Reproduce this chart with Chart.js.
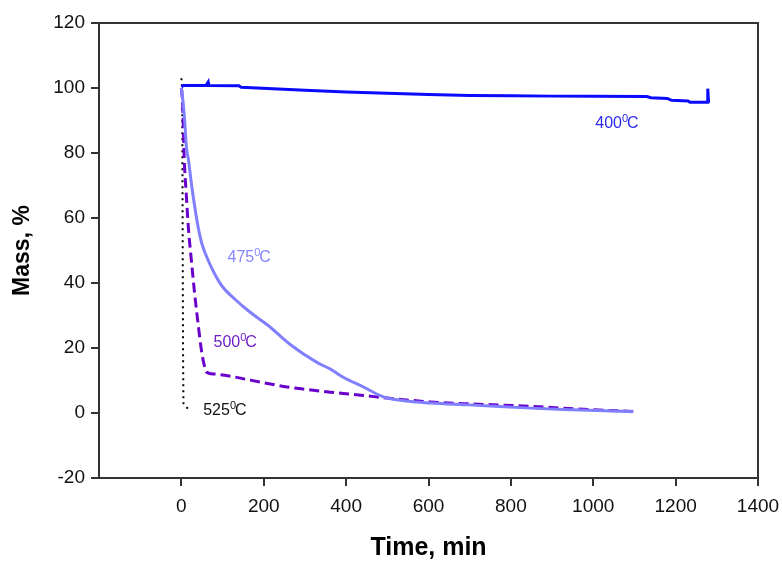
<!DOCTYPE html>
<html>
<head>
<meta charset="utf-8">
<script src="https://cdn.jsdelivr.net/npm/chart.js@4/dist/chart.umd.min.js"></script>
<style>
  html, body { margin: 0; padding: 0; background: #fff; }
  #wrap { width: 782px; height: 562px; }
</style>
</head>
<body>
<div id="wrap"><canvas id="chart" width="782" height="562"></canvas></div>
<script>
// mass loss curves
const time400 = [0, 5, 45, 60, 65, 66, 140, 145, 300, 400, 500, 600, 700, 800, 900, 1000, 1130, 1140, 1180, 1190, 1230, 1235, 1278, 1278, 1280];
const mass400 = [100.3, 100.8, 100.8, 100.8, 101.8, 100.8, 100.7, 100.2, 99.3, 98.8, 98.4, 98.0, 97.7, 97.6, 97.5, 97.5, 97.4, 97.0, 96.8, 96.2, 96.0, 95.6, 95.6, 99.8, 95.4];

const time475 = [0, 3, 8, 12, 17, 25, 33, 41, 50, 65, 80, 99, 130, 167, 210, 265, 330, 362, 393, 442, 480, 500, 550, 604, 700, 847, 950, 1050, 1097];
const mass475 = [100, 97, 90, 82, 78, 70, 63, 57, 52, 47, 43, 39, 35, 31, 27, 21, 15.5, 13.5, 11, 8, 5.5, 4.6, 3.6, 3.1, 2.5, 1.5, 1, 0.6, 0.4];

const time500 = [0, 3, 7, 12, 17, 25, 32, 41, 49, 55, 62, 80, 120, 160, 200, 257, 300, 362, 442, 500, 604, 700, 767, 850, 927, 1000, 1097];
const mass500 = [100, 95, 78, 67, 57, 46, 37, 27, 19, 15, 12.5, 12, 11.3, 10.3, 9.3, 8, 7.3, 6.4, 5.4, 4.6, 3.4, 2.8, 2.5, 2, 1.5, 1, 0.5];

const time525 = [0, 2, 3, 4, 5, 10, 20];
const mass525 = [103, 100, 60, 20, 3, 2, 1];

const xTicks = [0, 200, 400, 600, 800, 1000, 1200, 1400];
const yTicks = [-20, 0, 20, 40, 60, 80, 100, 120];

// curve labels: temperature and anchor in data units
const labelTemps = ["400", "475", "500", "525"];
const labelTime = [1005, 112, 78, 53];
const labelMass = [87.7, 46.5, 20.3, -0.6];
const labelColors = ["#2a2aee", "#8585ff", "#7020c8", "#111111"];

const FONT = "'Liberation Sans', Arial, sans-serif";

function pts(xs, ys) {
    return xs.map((x, i) => ({ x: x, y: ys[i] }));
}

const boxPlugin = {
    id: "box",
    afterDraw(chart) {
        const a = chart.chartArea;
        const ctx = chart.ctx;
        ctx.save();
        ctx.strokeStyle = "#333";
        ctx.lineWidth = 2;
        ctx.strokeRect(a.left, a.top, a.right - a.left, a.bottom - a.top);

        const xs = chart.scales.x, ys = chart.scales.y;
        ctx.textBaseline = "alphabetic";
        ctx.textAlign = "left";
        labelTemps.forEach((t, i) => {
            let px = xs.getPixelForValue(labelTime[i]);
            const py = ys.getPixelForValue(labelMass[i]);
            ctx.fillStyle = labelColors[i];
            ctx.font = "16px " + FONT;
            ctx.fillText(t, px, py);
            px += ctx.measureText(t).width;
            ctx.font = "11px " + FONT;
            ctx.fillText("0", px, py - 6);
            px += ctx.measureText("0").width - 1;
            ctx.font = "16px " + FONT;
            ctx.fillText("C", px, py);
        });
        ctx.restore();
    }
};

const ctx = document.getElementById("chart").getContext("2d");

new Chart(ctx, {
    type: "scatter",
    data: {
        datasets: [
            { label: "400", data: pts(time400, mass400), borderColor: "#0a0aff", borderWidth: 3 },
            { label: "475", data: pts(time475, mass475), borderColor: "#8080ff", borderWidth: 3, cubicInterpolationMode: "monotone" },
            { label: "500", data: pts(time500, mass500), borderColor: "#6a00cc", borderWidth: 3, borderDash: [10, 5], cubicInterpolationMode: "monotone" },
            { label: "525", data: pts(time525, mass525), borderColor: "#000", borderWidth: 2, borderDash: [2, 4] }
        ].map(d => Object.assign(d, { showLine: true, pointRadius: 0, fill: false }))
    },
    options: {
        responsive: false,
        animation: false,
        layout: { padding: { top: 23, right: 24, left: 0, bottom: 0 } },
        plugins: { legend: { display: false }, tooltip: { enabled: false } },
        scales: {
            x: {
                type: "linear",
                min: -200,
                max: 1400,
                afterBuildTicks: axis => { axis.ticks = xTicks.map(v => ({ value: v })); },
                afterFit: axis => { axis.height = 84; axis.paddingRight = 0; },
                grid: { drawOnChartArea: false, drawTicks: true, tickLength: 8, color: "#333", lineWidth: 2 },
                border: { color: "#333", width: 2 },
                ticks: { color: "#111", font: { size: 19, family: FONT }, padding: 9, maxRotation: 0, callback: v => String(v) },
                title: {
                    display: true,
                    text: "Time, min",
                    color: "#000",
                    font: { size: 25, weight: "bold", family: FONT, lineHeight: 1 },
                    padding: { top: 0, bottom: 1 }
                }
            },
            y: {
                type: "linear",
                min: -20,
                max: 120,
                afterBuildTicks: axis => { axis.ticks = yTicks.map(v => ({ value: v })); },
                afterFit: axis => { axis.width = 99; },
                grid: { drawOnChartArea: false, drawTicks: true, tickLength: 8, color: "#333", lineWidth: 2 },
                border: { color: "#333", width: 2 },
                ticks: { color: "#111", font: { size: 19, family: FONT }, padding: 6, callback: v => String(v) },
                title: {
                    display: true,
                    text: "Mass, %",
                    color: "#000",
                    font: { size: 23, weight: "bold", family: FONT, lineHeight: 1 },
                    padding: { top: 11, bottom: 0 }
                }
            }
        }
    },
    plugins: [boxPlugin]
});
</script>
</body>
</html>
